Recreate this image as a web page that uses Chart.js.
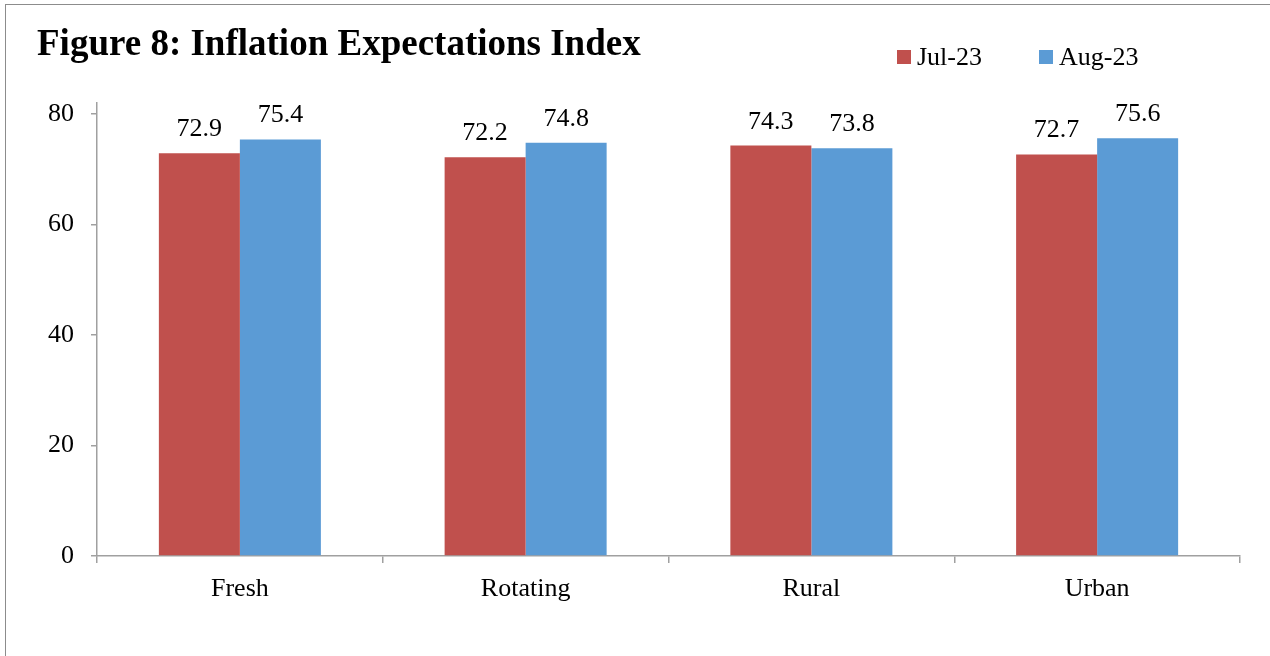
<!DOCTYPE html>
<html>
<head>
<meta charset="utf-8">
<script src="https://cdn.jsdelivr.net/npm/chart.js@4.4.1/dist/chart.umd.min.js"></script>
<style>
  html, body { margin: 0; padding: 0; background: #fff; overflow: hidden; }
  .wrap { position: relative; width: 1270px; height: 656px; }
  .frame { position: absolute; left: 5px; top: 4px; width: 1400px; height: 800px; border: 1px solid #8c8c8c; box-sizing: border-box; }
  #chart { position: absolute; left: 0; top: 0; }
  .title { position: absolute; left: 37px; top: 24px; font: bold 37px/37px "Liberation Serif", "Times New Roman", serif; color: #000; white-space: nowrap; }
  .legend { position: absolute; left: 897px; top: 44px; display: flex; font: 26px/26px "Liberation Serif", "Times New Roman", serif; color: #000; }
  .legend-item { display: flex; align-items: flex-start; margin-right: 57px; white-space: nowrap; }
  .legend-box { width: 14px; height: 14px; margin-top: 6px; margin-right: 6px; }
</style>
</head>
<body>
<div class="wrap">
  <div class="frame"></div>
  <canvas id="chart" width="1270" height="656"></canvas>
  <div class="title" id="title"></div>
  <div class="legend" id="legend"></div>
</div>
<script>
// Data
const titleText = "Figure 8: Inflation Expectations Index";
const categories = ["Fresh", "Rotating", "Rural", "Urban"];
const seriesNames = ["Jul-23", "Aug-23"];
const jul23 = [72.9, 72.2, 74.3, 72.7];
const aug23 = [75.4, 74.8, 73.8, 75.6];
const yTicks = [0, 20, 40, 60, 80];
const colors = ["#C0504D", "#5B9BD5"];

const serif = '"Liberation Serif", "Times New Roman", serif';
const axisColor = "#a0a0a0";

document.getElementById("title").textContent = titleText;

// simple html legend
const legendEl = document.getElementById("legend");
seriesNames.forEach((name, i) => {
  const item = document.createElement("div");
  item.className = "legend-item";
  const box = document.createElement("span");
  box.className = "legend-box";
  box.style.background = colors[i];
  const txt = document.createElement("span");
  txt.textContent = name;
  item.appendChild(box);
  item.appendChild(txt);
  legendEl.appendChild(item);
});

// value labels above bars
const barLabels = {
  id: "barLabels",
  afterDatasetsDraw(chart) {
    const ctx = chart.ctx;
    ctx.save();
    ctx.font = "26px " + serif;
    ctx.fillStyle = "#000";
    ctx.textAlign = "center";
    ctx.textBaseline = "alphabetic";
    chart.data.datasets.forEach((ds, i) => {
      chart.getDatasetMeta(i).data.forEach((bar, j) => {
        ctx.fillText(ds.data[j].toFixed(1), bar.x, bar.y - 17);
      });
    });
    ctx.restore();
  }
};

new Chart(document.getElementById("chart"), {
  type: "bar",
  data: {
    labels: categories,
    datasets: [
      { label: seriesNames[0], data: jul23, backgroundColor: colors[0], borderWidth: 0 },
      { label: seriesNames[1], data: aug23, backgroundColor: colors[1], borderWidth: 0 }
    ]
  },
  options: {
    responsive: false,
    animation: false,
    layout: { padding: { top: 103, left: 0, right: 30, bottom: 0 } },
    datasets: { bar: { categoryPercentage: 0.567, barPercentage: 1.0 } },
    plugins: {
      legend: { display: false },
      title: { display: false },
      tooltip: { enabled: false }
    },
    scales: {
      x: {
        grid: { display: true, offset: true, drawOnChartArea: false, drawTicks: true, tickLength: 7, color: axisColor, lineWidth: 1.5 },
        border: { display: true, color: axisColor, width: 1.5 },
        ticks: { color: "#000", font: { family: serif, size: 26 }, padding: 11, maxRotation: 0 },
        afterFit: scale => { scale.height = 100; }
      },
      y: {
        min: 0,
        max: 82,
        afterBuildTicks: scale => { scale.ticks = yTicks.map(v => ({ value: v })); },
        grid: { display: true, drawOnChartArea: false, drawTicks: true, tickLength: 6, color: axisColor, lineWidth: 1.5 },
        border: { display: true, color: axisColor, width: 1.5 },
        ticks: { color: "#000", font: { family: serif, size: 26 }, padding: 17 },
        afterFit: scale => { scale.width = 97; }
      }
    }
  },
  plugins: [barLabels]
});
</script>
</body>
</html>
